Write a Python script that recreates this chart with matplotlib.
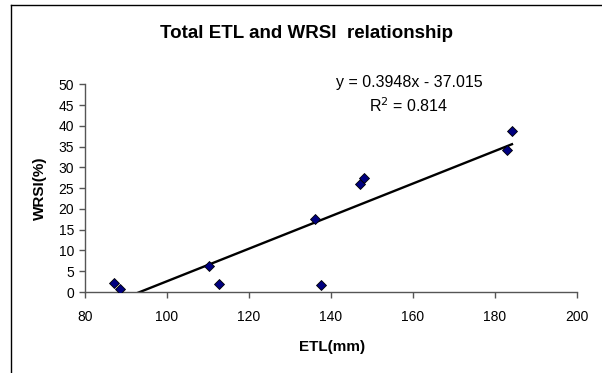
import numpy as np
import matplotlib
matplotlib.use("Agg")
import matplotlib.pyplot as plt
from matplotlib.lines import Line2D

plt.rcParams['font.family'] = ['Liberation Sans', 'DejaVu Sans']

etl = [87.0, 88.5, 110.2, 112.7, 136.2, 137.7, 147.2, 148.2, 182.9, 184.2]
wrsi = [2.25, 0.7, 6.3, 2.0, 17.6, 1.7, 25.9, 27.5, 34.3, 38.8]
x_ticks = [80, 100, 120, 140, 160, 180, 200]
y_ticks = [0, 5, 10, 15, 20, 25, 30, 35, 40, 45, 50]
title = "Total ETL and WRSI  relationship"
eq_text = "y = 0.3948x - 37.015"
r2_text = "R$^2$ = 0.814"

W, H = 602, 373
fig = plt.figure(figsize=(W/100, H/100), dpi=100)
ax = fig.add_axes([85/W, 1-292/H, (576.7-85)/W, (292-84.3)/H])

# trendline from data
slope, intercept = np.polyfit(etl, wrsi, 1)
xl = np.array([min(etl), max(etl)])
ax.plot(xl, slope*xl + intercept, color='black', lw=1.7, zorder=2)
ax.plot(etl, wrsi, linestyle='none', marker='D', markersize=5,
        markerfacecolor='#000080', markeredgecolor='black', markeredgewidth=0.6, zorder=3)

ax.set_xlim(80, 200)
ax.set_ylim(0, 50)
ax.set_xticks(x_ticks)
ax.set_yticks(y_ticks)
for s in ['top', 'right']:
    ax.spines[s].set_visible(False)
for s in ['left', 'bottom']:
    ax.spines[s].set_color('#555555')
    ax.spines[s].set_linewidth(1.0)
ax.tick_params(direction='out', length=4, width=1.0, color='#555555',
               labelsize=10, pad=4)
ax.tick_params(axis='x', pad=9)

fig.text(307/W, 1-38.5/H, title, ha='center', va='baseline', fontsize=13.5, fontweight='bold')
fig.text(409/W, 1-87/H, eq_text, ha='center', va='baseline', fontsize=11.5)
fig.text(409/W, 1-112/H, r2_text, ha='center', va='baseline', fontsize=11.5)
fig.text(332/W, 1-347/H, "ETL(mm)", ha='center', va='center', fontsize=11, fontweight='bold')
fig.text(40/W, 1-188/H, "WRSI(%)", ha='center', va='center', fontsize=11,
         fontweight='bold', rotation=90)

# outer frame (left and top)
fig.add_artist(Line2D([11/W, 11/W], [0, 1-5/H], color='black', lw=1.0))
fig.add_artist(Line2D([11/W, 1], [1-5/H, 1-5/H], color='black', lw=1.0))

fig.savefig("out.png", dpi=100)
